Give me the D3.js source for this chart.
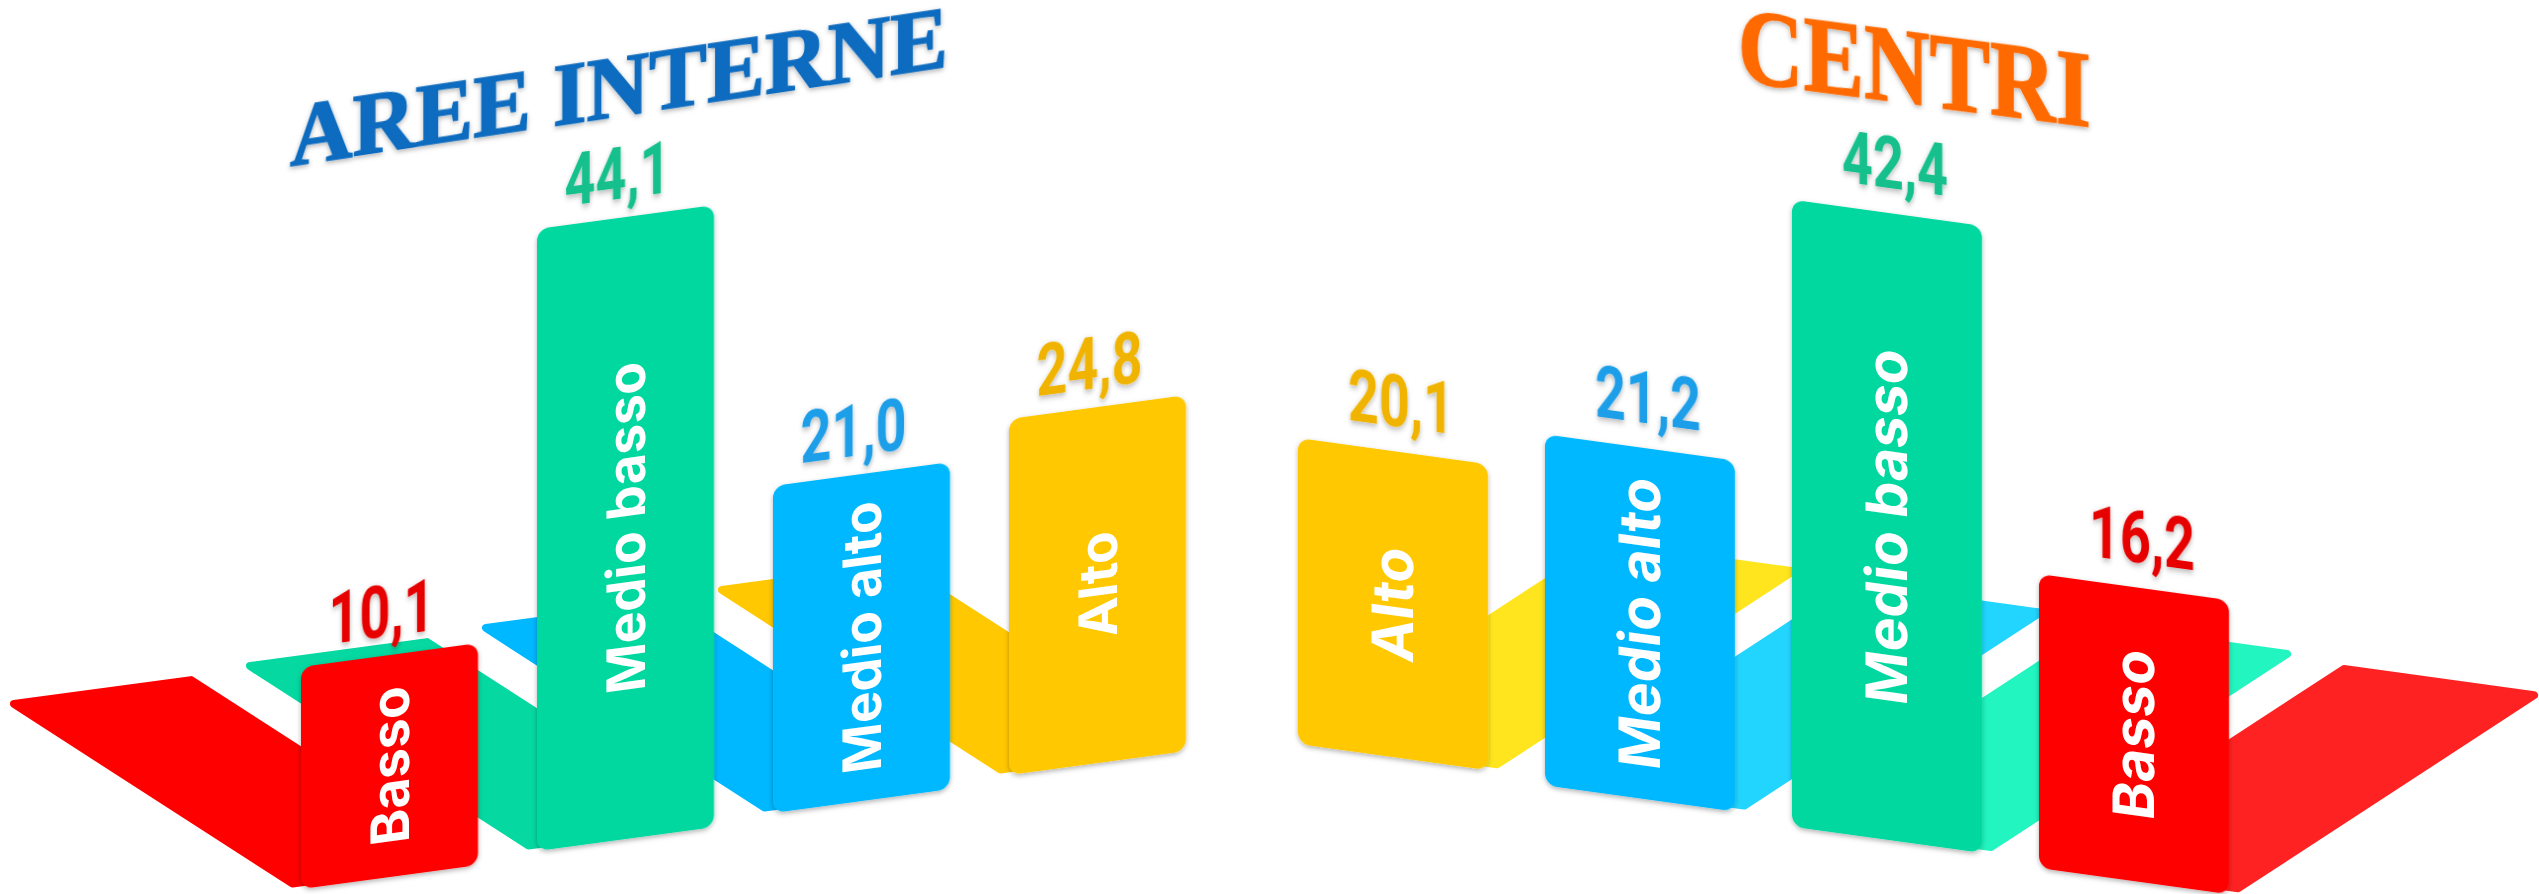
<html>

<head>
  <meta charset="utf-8">
  <style>
    body {
      margin: 0;
      background: #fff;
    }

    .bar-label {
      fill: #fff;
      font-family: Inter, sans-serif;
      font-weight: 700;
      text-anchor: middle;
      dominant-baseline: central;
    }

    .value {
      font-family: Roboto, sans-serif;
      font-weight: 700;
      font-size: 60px;
      text-anchor: middle;
      dominant-baseline: central;
    }

    .title {
      font-family: "Liberation Serif", serif;
      font-weight: 700;
    }
  </style>
</head>

<body>
<svg class="chart"></svg>
<script src="https://cdn.jsdelivr.net/npm/d3@7"></script>
<script>
    var leftCategories = ['Basso', 'Medio basso', 'Medio alto', 'Alto'];
    var leftValues = [10.1, 44.1, 21.0, 24.8];
    var rightCategories = ['Alto', 'Medio alto', 'Medio basso', 'Basso'];
    var rightValues = [20.1, 21.2, 42.4, 16.2];

    var barColors = { 'Basso': '#ff0000', 'Medio basso': '#05d8a0', 'Medio alto': '#00b8ff', 'Alto': '#ffc800' };
    var floorColorsRight = { 'Basso': '#ff2222', 'Medio basso': '#22f5c0', 'Medio alto': '#22d5ff', 'Alto': '#ffe51e' };
    var valueColors = { 'Basso': '#e60000', 'Medio basso': '#14c08c', 'Medio alto': '#1e9fe8', 'Alto': '#f0b400' };

    var chart = d3.select(".chart")
      .attr("width", 2539)
      .attr("height", 894)
      .style("display", "block");

    var defs = chart.append("defs");
    var soft = defs.append("filter").attr("id", "soft")
      .attr("x", "-10%").attr("y", "-10%").attr("width", "120%").attr("height", "120%");
    soft.append("feDropShadow")
      .attr("dx", 0).attr("dy", 2).attr("stdDeviation", 2.5)
      .attr("flood-color", "#000").attr("flood-opacity", 0.3);

    var comma = d3.formatLocale({ decimal: ",", thousands: ".", grouping: [3], currency: ["", ""] }).format(".1f");

    // the bars in the picture are not strictly proportional, so the
    // height scales go through knots
    var panels = [
      {
        categories: leftCategories,
        values: leftValues,
        x: d3.scaleBand().domain(leftCategories).range([301, 1186]).paddingInner(0.25),
        base: d3.scalePoint().domain(leftCategories).range([889, 775]),
        height: d3.scaleLinear().domain([10.1, 21.0, 24.8, 44.1]).range([222, 327, 356, 622]),
        slope: -0.135,
        depth: [-287, -185],
        floorColors: barColors,
        valueDx: -8,
        valueDy: -42,
        labelSize: 53
      },
      {
        categories: rightCategories,
        values: rightValues,
        x: d3.scaleBand().domain(rightCategories).range([1298, 2229]).paddingInner(57 / 247),
        base: d3.scalePoint().domain(rightCategories).range([744, 868]),
        height: d3.scaleLinear().domain([16.2, 20.1, 21.2, 42.4]).range([294, 306, 351, 627]),
        slope: 0.138,
        depth: [305, -199],
        floorColors: floorColorsRight,
        valueDx: 8,
        valueDy: -48,
        labelSize: 57
      }
    ];

    var floorLine = d3.line().curve(d3.curveLinearClosed);
    // near edge of a floor is pulled back a little so its round stroke stays behind the bar
    var tuck = 0.03;

    panels.forEach(function(p) {
      var rows = p.categories.map(function(c, i) {
        return { category: c, value: p.values[i] };
      });
      var w = p.x.bandwidth();

      chart.append("g").selectAll("path")
        .data(rows)
        .enter()
        .append("path")
        .attr("d", function(d) {
          var x0 = p.x(d.category), y0 = p.base(d.category);
          var x1 = x0 + w, y1 = y0 + p.slope * w;
          var dx = p.depth[0], dy = p.depth[1];
          return floorLine([
            [x0 + tuck * dx, y0 + tuck * dy], [x1 + tuck * dx, y1 + tuck * dy],
            [x1 + dx, y1 + dy],
            [x0 + dx, y0 + dy]
          ]);
        })
        .attr("fill", function(d) { return p.floorColors[d.category]; })
        .attr("stroke", function(d) { return p.floorColors[d.category]; })
        .attr("stroke-width", 8)
        .attr("stroke-linejoin", "round");

      var bars = chart.append("g").selectAll("g")
        .data(rows)
        .enter()
        .append("g")
        .attr("transform", function(d) {
          return "matrix(1," + p.slope + ",0,1," + p.x(d.category) + "," + p.base(d.category) + ")";
        });

      bars.append("rect")
        .attr("x", 0)
        .attr("y", function(d) { return -p.height(d.value); })
        .attr("width", w)
        .attr("height", function(d) { return p.height(d.value); })
        .attr("rx", 12)
        .attr("fill", function(d) { return barColors[d.category]; })
        .attr("filter", "url(#soft)");

      bars.append("text")
        .attr("class", "bar-label")
        .attr("font-size", p.labelSize)
        .attr("transform", function(d) {
          return "translate(" + (w / 2) + "," + (-p.height(d.value) / 2) + ") rotate(-90)";
        })
        .text(function(d) { return d.category; });

      chart.append("g").selectAll("text")
        .data(rows)
        .enter()
        .append("text")
        .attr("class", "value")
        .attr("fill", function(d) { return valueColors[d.category]; })
        .attr("filter", "url(#soft)")
        .attr("transform", function(d) {
          var cx = p.x(d.category) + w / 2;
          var top = p.base(d.category) + p.slope * w / 2 - p.height(d.value);
          return "matrix(1," + p.slope + ",0,1," + (cx + p.valueDx) + "," + (top + p.valueDy) + ") scale(0.9,1.2)";
        })
        .text(function(d) { return comma(d.value); });
    });

    // sheared round their own start point, so x and y stay the real position
    chart.append("text")
      .attr("class", "title")
      .attr("x", 290)
      .attr("y", 165)
      .attr("transform", "matrix(1,-0.15,0,1,0," + (0.15 * 290) + ")")
      .attr("font-size", 88)
      .attr("textLength", 658)
      .attr("lengthAdjust", "spacingAndGlyphs")
      .attr("fill", "#0b6cbf")
      .attr("stroke", "#0b6cbf")
      .attr("stroke-width", 1.5)
      .attr("filter", "url(#soft)")
      .text("AREE INTERNE");

    chart.append("text")
      .attr("class", "title")
      .attr("x", 1738)
      .attr("y", 81)
      .attr("transform", "matrix(1,0.13,0,1,0," + (-0.13 * 1738) + ")")
      .attr("font-size", 108)
      .attr("textLength", 353)
      .attr("lengthAdjust", "spacingAndGlyphs")
      .attr("fill", "#ff6a00")
      .attr("stroke", "#ff6a00")
      .attr("stroke-width", 1.5)
      .attr("filter", "url(#soft)")
      .text("CENTRI");
</script>
</body>
</html>
